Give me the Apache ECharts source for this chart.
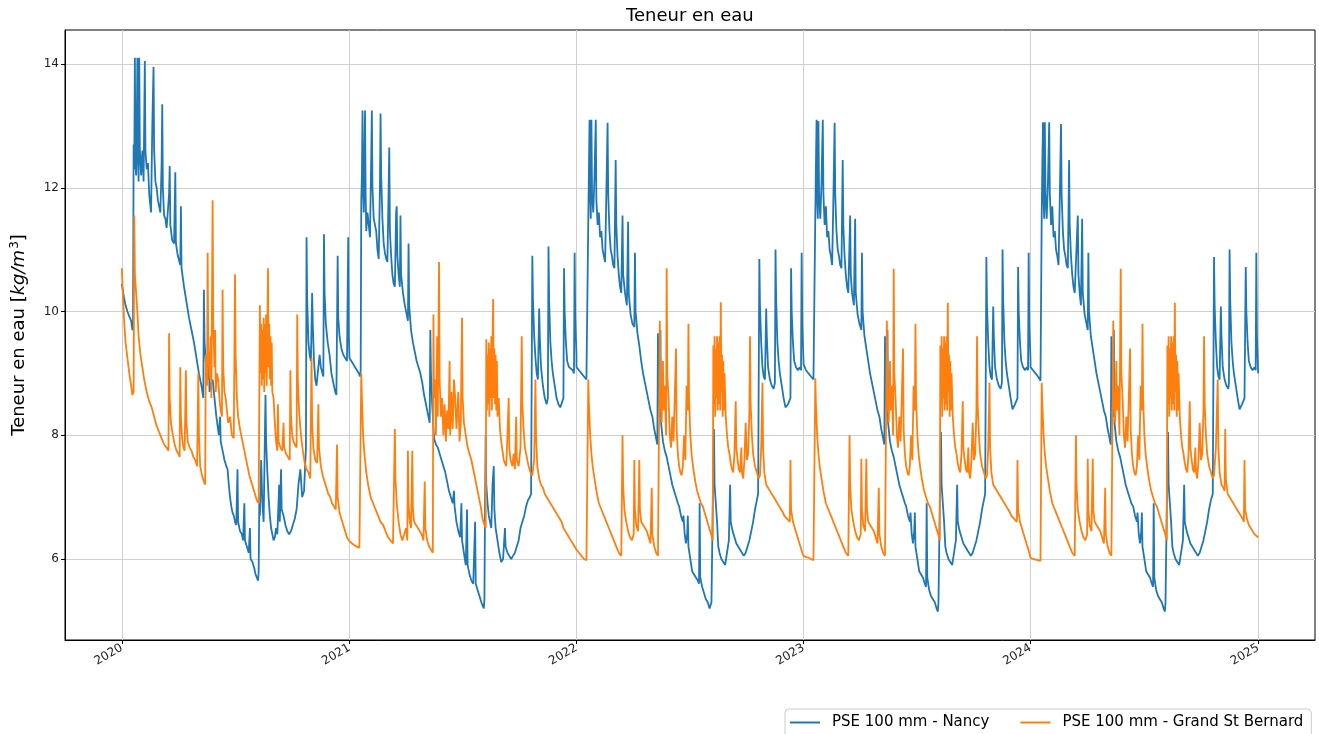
<!DOCTYPE html>
<html>
<head>
<meta charset="utf-8">
<script src="https://cdn.jsdelivr.net/npm/echarts@6/dist/echarts.min.js"></script>
<style>
html,body{margin:0;padding:0;background:#fff;}
#chart{width:1319px;height:734px;}
</style>
</head>
<body>
<div id="chart"></div>
<script>
// ---- DATA: [day of year, value] ----
const years = [2020, 2021, 2022, 2023, 2024];
const yTicks = [6, 8, 10, 12, 14];
const xTickYears = [2020, 2021, 2022, 2023, 2024, 2025];
const seriesNames = ['PSE 100 mm - Nancy', 'PSE 100 mm - Grand St Bernard'];

const nancy2020 = [[0,10.45],[3,10.25],[6,10.1],[9,10.0],[12,9.92],[15,9.85],[17,9.7],[18,9.75],
[19,12.7],[20,12.3],[21,14.1],[22,12.4],[23,12.2],[24,12.9],[25,14.1],[26,12.5],[27,12.1],[28,14.1],[29,12.6],[31,12.2],[33,12.6],[35,12.1],[37,14.05],[38,12.6],[40,12.3],[42,12.4],[44,11.9],[46,11.7],[47,11.6],[49,13.0],[51,13.95],[52,12.6],[54,12.1],[56,12.0],[58,11.8],[60,11.7],[62,11.6],[64,12.4],[65,13.35],[66,12.0],[68,11.55],[70,11.5],[72,11.35],[76,11.9],[77,12.35],[78,11.4],[81,11.15],[84,11.1],[86,12.25],[87,11.1],[90,10.9],[94,10.75],[95,11.7],[96,10.7],[100,10.4],[104,10.15],[108,9.9],[112,9.7],[116,9.5],[120,9.25],[124,9.0],[128,8.8],[131,8.6],[132,10.35],[133,9.5],[135,9.2],[138,8.9],[140,9.3],[141,8.7],[144,8.85],[146,8.9],[148,8.7],[150,8.5],[152,8.3],[154,8.15],[156,8.0],[158,8.3],[159,7.9],[162,7.75],[165,7.6],[168,7.5],[170,7.45],[172,7.2],[174,7.0],[176,6.85],[178,6.75],[180,6.7],[182,6.6],[184,6.55],[186,7.45],[187,6.6],[190,6.45],[193,6.4],[195,6.3],[197,6.9],[198,6.3],[201,6.2],[204,6.1],[206,6.5],[207,6.0],[210,5.95],[213,5.85],[215,5.75],[217,5.7],[219,5.65],[220,5.8],[221,6.9],[222,6.7],[224,7.6],[226,6.9],[228,6.6],[231,8.65],[232,7.9],[234,7.4],[236,7.0],[238,6.7],[240,6.5],[242,6.4],[244,6.3],[246,6.35],[248,6.5],[250,6.4],[253,7.2],[254,6.6],[256,7.45],[257,6.8],[260,6.7],[263,6.55],[266,6.45],[269,6.4],[272,6.45],[275,6.55],[278,6.65],[281,6.8],[284,7.2],[287,7.45],[290,7.0],[293,7.1],[296,7.8],[297,11.2],[298,10.2],[300,9.5],[302,9.3],[304,9.2],[306,10.3],[307,9.8],[309,9.2],[311,8.9],[313,8.8],[316,8.8],[318,9.3],[320,9.1],[324,8.95],[325,11.25],[326,10.3],[328,9.8],[331,9.5],[334,9.3],[337,9.0],[340,8.85],[343,8.7],[345,8.65],[347,10.9],[348,9.9],[350,9.6],[353,9.4],[356,9.3],[359,9.25],[362,9.2],[364,11.2],[365,9.6]];

const nancy2021 = [[0,9.25],[3,9.2],[6,9.15],[9,9.1],[12,9.05],[15,9.0],[17,8.95],[18,9.05],
[19,11.8],[20,12.2],[21,13.25],[22,11.9],[23,11.6],[24,12.3],[25,13.25],[26,11.9],[27,11.3],[29,11.6],[31,11.4],[33,11.2],[35,12.5],[36,13.25],[37,12.0],[39,11.5],[41,11.4],[43,11.3],[45,11.0],[47,10.85],[49,12.0],[50,13.2],[51,12.2],[53,11.5],[55,11.1],[57,10.95],[59,10.85],[61,10.8],[63,12.0],[64,12.65],[65,11.3],[67,10.9],[69,10.6],[71,10.45],[73,10.4],[75,11.6],[76,11.7],[77,10.9],[79,10.6],[81,10.4],[82,11.55],[83,10.6],[86,10.3],[89,10.1],[92,9.95],[94,9.85],[95,11.1],[96,10.1],[99,9.7],[102,9.5],[105,9.35],[108,9.2],[111,9.1],[114,9.0],[117,8.85],[120,8.65],[123,8.5],[126,8.35],[129,8.2],[130,9.7],[131,9.0],[133,8.5],[136,7.95],[139,7.85],[142,7.8],[145,7.7],[148,7.6],[151,7.5],[154,7.4],[157,7.25],[160,7.1],[163,7.0],[166,6.9],[168,7.1],[169,6.85],[172,6.6],[175,6.45],[178,6.35],[180,6.9],[181,6.3],[184,6.1],[187,5.9],[189,6.8],[190,5.9],[193,5.75],[196,5.65],[199,5.6],[202,6.6],[203,5.6],[206,5.5],[209,5.4],[212,5.3],[214,5.25],[216,5.2],[217,5.35],[218,6.9],[219,8.0],[220,7.2],[222,6.9],[224,6.7],[226,6.6],[228,6.5],[230,7.2],[232,7.5],[233,6.8],[235,6.5],[238,6.3],[241,6.1],[244,5.95],[247,6.0],[250,6.5],[251,6.2],[254,6.1],[257,6.05],[260,6.0],[263,6.05],[266,6.1],[269,6.2],[272,6.3],[275,6.5],[278,6.6],[281,6.7],[284,6.85],[287,6.95],[290,7.0],[292,7.05],[294,10.9],[295,10.2],[297,9.6],[299,9.25],[301,9.0],[303,8.9],[305,10.05],[306,9.6],[308,9.1],[311,8.8],[314,8.6],[317,8.5],[319,8.6],[320,11.05],[321,10.2],[323,9.5],[325,9.2],[327,9.0],[330,8.8],[333,8.6],[336,8.5],[339,8.45],[342,8.45],[344,8.6],[345,10.7],[346,10.0],[348,9.5],[350,9.2],[353,9.1],[356,9.1],[359,9.05],[361,9.0],[362,10.95],[363,9.9],[365,9.3]];

const nancy2022 = [[0,9.1],[4,9.05],[8,9.0],[12,8.95],[16,8.9],[18,8.9],[19,11.5],[20,12.3],[21,13.1],[22,11.9],[23,11.5],[24,13.1],[25,11.9],[27,11.6],[29,12.2],[31,13.1],[32,11.8],[34,11.4],[36,11.6],[38,11.2],[40,11.3],[42,11.0],[44,10.9],[46,10.8],[48,11.9],[50,13.05],[51,11.9],[53,11.3],[55,11.0],[57,10.9],[59,10.75],[61,10.7],[63,12.45],[64,11.4],[66,10.9],[68,10.6],[70,10.4],[72,10.3],[74,11.55],[75,10.6],[78,10.3],[81,10.1],[83,11.45],[84,10.3],[87,9.95],[90,9.8],[93,9.75],[94,10.95],[95,10.0],[98,9.65],[101,9.45],[104,9.2],[107,9.0],[110,8.85],[113,8.7],[116,8.55],[119,8.4],[122,8.3],[125,8.1],[128,7.95],[130,7.85],[131,9.65],[132,8.8],[134,8.3],[135,9.7],[136,8.2],[139,7.9],[142,7.75],[145,7.65],[148,7.5],[151,7.35],[154,7.2],[157,7.1],[160,7.0],[163,6.9],[165,6.85],[168,6.7],[171,6.6],[172,6.7],[174,6.4],[176,6.25],[178,6.4],[179,6.7],[180,6.2],[183,6.0],[186,5.8],[189,5.75],[192,5.7],[195,5.65],[197,5.6],[198,6.9],[199,5.7],[202,5.55],[205,5.45],[208,5.35],[211,5.3],[214,5.2],[216,5.18],[217,5.3],[219,6.8],[221,8.1],[222,7.2],[224,6.9],[226,6.6],[228,6.2],[230,6.1],[233,6.0],[236,5.95],[239,5.9],[242,5.88],[245,6.3],[247,7.2],[248,6.6],[251,6.45],[254,6.35],[257,6.25],[260,6.2],[263,6.15],[266,6.1],[269,6.05],[272,6.1],[275,6.2],[278,6.3],[281,6.45],[284,6.6],[287,6.8],[290,6.95],[292,7.05],[294,10.85],[295,10.1],[297,9.5],[299,9.1],[301,8.95],[303,8.9],[305,10.05],[306,9.6],[308,9.1],[311,8.9],[314,8.8],[317,8.75],[319,8.85],[320,11.0],[321,10.2],[323,9.5],[325,9.2],[327,9.0],[330,8.8],[333,8.6],[336,8.45],[338,8.42],[340,8.5],[344,8.6],[345,10.7],[346,10.0],[348,9.5],[350,9.2],[353,9.1],[356,9.05],[359,9.1],[361,9.05],[362,10.95],[363,9.8],[365,9.2]];

const nancy2023 = [[0,9.15],[4,9.05],[8,9.0],[12,8.95],[16,8.9],[18,8.88],[19,11.6],[20,12.4],[21,13.1],[22,11.8],[23,11.5],[24,13.08],[25,11.9],[27,11.5],[29,12.1],[31,13.1],[32,11.9],[34,11.4],[36,11.7],[38,11.2],[40,11.3],[42,11.0],[44,10.9],[46,10.75],[48,11.8],[50,13.05],[51,11.9],[53,11.3],[55,11.0],[57,10.9],[59,10.75],[61,10.7],[63,12.45],[64,11.4],[66,10.9],[68,10.6],[70,10.4],[72,10.3],[75,11.55],[76,10.6],[78,10.3],[81,10.1],[83,11.5],[84,10.3],[87,9.95],[90,9.8],[93,9.7],[94,10.95],[95,10.0],[98,9.6],[101,9.4],[104,9.2],[107,9.0],[110,8.85],[113,8.7],[116,8.55],[119,8.4],[122,8.3],[125,8.1],[128,7.95],[130,7.85],[131,9.6],[132,8.8],[134,8.3],[135,9.7],[136,8.2],[139,7.9],[142,7.75],[145,7.65],[148,7.5],[151,7.35],[154,7.2],[157,7.1],[160,7.0],[163,6.9],[165,6.85],[168,6.7],[171,6.6],[172,6.75],[174,6.4],[176,6.25],[178,6.45],[179,6.75],[180,6.2],[183,6.0],[186,5.8],[189,5.75],[192,5.7],[195,5.6],[197,5.55],[198,6.9],[199,5.7],[202,5.5],[205,5.4],[208,5.35],[211,5.3],[214,5.2],[216,5.15],[217,5.3],[219,6.8],[221,8.05],[222,7.2],[224,6.9],[226,6.6],[228,6.2],[230,6.1],[233,6.0],[236,5.95],[239,5.9],[242,5.88],[245,6.3],[247,7.2],[248,6.6],[251,6.45],[254,6.35],[257,6.25],[260,6.2],[263,6.15],[266,6.1],[269,6.05],[272,6.1],[275,6.2],[278,6.3],[281,6.45],[284,6.6],[287,6.8],[290,6.95],[292,7.05],[294,10.88],[295,10.1],[297,9.5],[299,9.1],[301,8.95],[303,8.9],[305,10.08],[306,9.6],[308,9.1],[311,8.9],[314,8.8],[317,8.75],[319,8.85],[320,11.0],[321,10.2],[323,9.5],[325,9.2],[327,9.0],[330,8.8],[333,8.6],[336,8.42],[338,8.45],[340,8.5],[344,8.6],[345,10.72],[346,10.0],[348,9.5],[350,9.2],[353,9.1],[356,9.05],[359,9.1],[361,9.05],[362,10.95],[363,9.8],[365,9.2]];

const nancy2024 = [[0,9.1],[4,9.05],[8,9.0],[12,8.95],[16,8.88],[17,8.87],[18,11.6],[19,12.4],[20,13.06],[21,11.8],[22,11.5],[23,13.06],[24,11.9],[26,11.5],[28,12.1],[30,13.06],[31,11.9],[33,11.4],[35,11.7],[37,11.2],[39,11.3],[41,11.0],[43,10.9],[45,10.75],[47,11.8],[49,13.03],[50,11.9],[52,11.3],[54,11.0],[56,10.9],[58,10.75],[60,10.7],[62,12.45],[63,11.4],[65,10.9],[67,10.6],[69,10.4],[71,10.3],[76,11.55],[77,10.6],[79,10.3],[81,10.1],[83,11.5],[84,10.3],[87,9.95],[90,9.8],[92,9.7],[93,10.95],[94,10.0],[97,9.6],[100,9.4],[103,9.2],[106,9.0],[109,8.85],[112,8.7],[115,8.55],[118,8.4],[121,8.3],[124,8.1],[127,7.95],[129,7.85],[130,9.6],[131,8.8],[133,8.3],[134,9.7],[135,8.2],[138,7.9],[141,7.75],[144,7.65],[147,7.5],[150,7.35],[153,7.2],[156,7.1],[159,7.0],[162,6.9],[165,6.85],[168,6.7],[171,6.6],[172,6.75],[174,6.4],[176,6.25],[178,6.45],[179,6.75],[180,6.2],[183,6.0],[186,5.8],[189,5.75],[192,5.7],[195,5.6],[197,5.55],[198,6.9],[199,5.7],[202,5.5],[205,5.4],[208,5.35],[211,5.3],[214,5.2],[216,5.15],[217,5.3],[219,6.8],[221,8.05],[222,7.2],[224,6.9],[226,6.6],[228,6.2],[230,6.1],[233,6.0],[236,5.95],[239,5.9],[242,5.88],[245,6.3],[247,7.2],[248,6.6],[251,6.45],[254,6.35],[257,6.25],[260,6.2],[263,6.15],[266,6.1],[269,6.05],[272,6.1],[275,6.2],[278,6.3],[281,6.45],[284,6.6],[287,6.8],[290,6.95],[293,7.05],[295,10.88],[296,10.1],[298,9.5],[300,9.1],[302,8.95],[304,8.9],[306,10.08],[307,9.6],[309,9.1],[312,8.9],[315,8.8],[318,8.75],[319,8.85],[320,11.0],[321,10.2],[323,9.5],[325,9.2],[327,9.0],[330,8.8],[333,8.6],[336,8.42],[338,8.45],[340,8.5],[344,8.6],[346,10.72],[347,10.0],[349,9.5],[351,9.2],[354,9.1],[357,9.05],[360,9.1],[362,9.05],[363,10.95],[364,9.6],[366,9.0]];

const gsb2020 = [[0,10.7],[2,10.2],[4,9.8],[6,9.5],[9,9.25],[12,9.0],[15,8.8],[17,8.65],[19,8.7],[20,11.55],[21,10.6],[23,10.3],[25,10.0],[27,9.6],[30,9.3],[33,9.1],[36,8.9],[40,8.7],[44,8.55],[48,8.45],[52,8.3],[56,8.15],[60,8.05],[64,7.95],[68,7.85],[72,7.8],[75,7.75],[76,9.65],[77,8.6],[79,8.2],[82,8.0],[85,7.85],[88,7.75],[91,7.7],[93,7.65],[94,9.1],[95,8.3],[97,7.95],[99,7.8],[101,7.75],[103,9.05],[104,8.2],[106,7.9],[109,7.8],[112,7.75],[115,7.65],[118,7.6],[121,7.5],[123,9.0],[124,8.0],[126,7.5],[129,7.35],[132,7.25],[134,7.2],[135,9.3],[137,8.8],[138,10.95],[139,9.4],[141,8.9],[143,9.6],[144,8.6],[146,11.8],[147,9.8],[149,9.1],[150,9.7],[151,8.7],[153,9.0],[155,8.9],[157,8.6],[159,8.4],[161,8.3],[162,10.35],[163,9.1],[165,8.7],[167,8.6],[169,8.4],[171,8.2],[174,8.3],[177,8.0],[180,7.95],[182,10.6],[183,9.3],[185,8.6],[187,8.3],[190,8.1],[193,7.95],[196,7.8],[199,7.65],[202,7.5],[205,7.35],[208,7.25],[211,7.15],[214,7.05],[217,6.95],[220,6.9],[222,10.1],[223,9.0],[224,9.8],[225,8.8],[226,9.7],[227,8.9],[228,9.9],[229,8.7],[230,9.8],[231,9.0],[232,9.95],[233,8.8],[234,9.7],[235,10.7],[236,9.1],[237,9.8],[238,8.9],[239,9.6],[240,8.8],[241,9.5],[242,8.7],[244,8.6],[246,8.2],[248,7.9],[250,7.75],[251,8.5],[252,7.9],[255,7.8],[258,7.75],[260,8.2],[261,7.8],[264,7.7],[267,7.65],[270,7.6],[271,9.05],[272,8.3],[274,8.0],[276,7.9],[278,7.85],[281,7.8],[282,9.95],[283,8.9],[285,8.4],[288,8.0],[291,7.75],[294,7.55],[297,7.45],[300,7.4],[303,7.3],[305,9.25],[306,8.2],[308,7.8],[311,7.6],[314,7.55],[316,8.5],[317,7.8],[320,7.5],[323,7.35],[326,7.25],[329,7.15],[332,7.05],[335,7.0],[338,6.9],[341,6.85],[344,6.8],[346,7.85],[347,7.0],[350,6.75],[353,6.65],[356,6.55],[359,6.45],[362,6.35],[365,6.3]];

const gsb2021 = [[0,6.28],[4,6.25],[8,6.22],[12,6.2],[16,6.18],[18,6.15],[19,9.0],[20,8.6],[22,8.0],[24,7.7],[27,7.4],[30,7.2],[34,7.0],[38,6.9],[42,6.8],[46,6.7],[50,6.6],[54,6.55],[58,6.45],[62,6.35],[66,6.3],[70,6.25],[72,6.25],[73,8.1],[74,7.3],[76,6.9],[79,6.6],[82,6.4],[85,6.3],[88,6.3],[91,6.5],[93,6.3],[94,7.75],[95,6.9],[97,6.6],[99,6.5],[101,7.75],[102,6.8],[104,6.6],[107,6.55],[110,6.5],[113,6.45],[116,6.4],[119,6.3],[121,7.25],[122,6.5],[125,6.3],[128,6.2],[131,6.15],[134,6.1],
[135,9.95],[136,8.6],[138,8.9],[139,8.0],[141,9.6],[142,8.3],[144,10.8],[145,8.9],[147,8.3],[149,8.6],[151,8.0],[153,8.5],[155,7.9],[157,8.4],[159,8.1],[161,9.2],[162,8.0],[164,8.7],[166,8.1],[168,8.9],[170,8.6],[172,8.1],[175,8.7],[177,7.9],[179,8.2],[181,9.9],[182,8.6],[184,8.2],[187,8.0],[190,7.8],[193,7.7],[196,7.6],[199,7.45],[202,7.3],[205,7.15],[208,7.0],[211,6.85],[214,6.65],[217,6.55],[219,6.5],
[220,9.55],[221,8.4],[222,9.3],[223,8.5],[224,9.5],[225,8.3],[226,9.4],[227,8.6],[228,9.6],[229,8.4],[230,9.5],[231,10.2],[232,8.6],[233,9.4],[234,8.5],[235,9.3],[236,8.4],[237,9.2],[238,8.3],[240,8.6],[242,8.1],[244,7.9],[246,7.75],[248,7.6],[250,7.55],[252,7.5],[254,8.0],[256,8.6],[257,7.8],[259,7.6],[262,7.5],[264,7.7],[266,7.45],[268,8.3],[269,7.6],[272,7.5],[275,7.8],[277,9.6],[278,8.5],[280,8.1],[282,7.8],[285,7.65],[288,7.5],[291,7.4],[294,7.35],[297,7.6],[299,8.9],[300,8.0],[302,7.5],[305,7.3],[308,7.2],[311,7.15],[314,7.05],[317,7.0],[320,6.95],[323,6.9],[326,6.85],[329,6.8],[332,6.75],[335,6.7],[338,6.65],[341,6.6],[344,6.5],[347,6.45],[350,6.4],[353,6.35],[356,6.3],[359,6.25],[362,6.2],[365,6.15]];

const gsb2022 = [[0,6.15],[4,6.1],[8,6.05],[12,6.0],[16,5.98],[18,5.98],[19,8.9],[20,8.5],[22,8.0],[24,7.7],[26,7.5],[29,7.3],[32,7.1],[36,6.9],[40,6.8],[44,6.7],[48,6.6],[52,6.5],[56,6.4],[60,6.3],[64,6.2],[68,6.1],[72,6.05],[74,8.0],[75,7.2],[77,6.8],[80,6.6],[83,6.45],[86,6.35],[89,6.3],[92,6.4],[93,7.6],[94,6.8],[96,6.55],[99,6.45],[101,7.6],[102,6.8],[104,6.6],[107,6.55],[110,6.5],[113,6.45],[116,6.35],[119,6.25],[121,7.15],[122,6.4],[125,6.2],[128,6.1],[131,6.05],[133,6.02],
[134,9.85],[135,8.6],[137,8.2],[139,9.2],[140,8.4],[142,8.8],[144,8.0],[145,10.7],[146,9.0],[148,8.6],[150,8.0],[152,7.8],[154,8.3],[156,7.9],[158,8.6],[160,9.4],[161,8.1],[163,7.7],[165,7.5],[167,7.4],[169,7.35],[171,7.5],[173,8.0],[175,7.6],[177,8.8],[179,8.4],[180,9.8],[181,8.6],[183,8.0],[185,7.7],[188,7.45],[191,7.25],[194,7.1],[197,7.0],[200,6.9],[203,6.85],[206,6.75],[209,6.65],[212,6.55],[215,6.45],[218,6.35],[219,6.3],
[220,9.45],[221,8.5],[222,9.6],[223,8.3],[224,9.4],[225,8.6],[226,9.6],[227,8.4],[228,9.5],[229,8.5],[230,9.6],[231,8.4],[232,10.15],[233,8.7],[234,9.3],[235,8.3],[236,9.2],[237,8.4],[238,9.0],[240,8.3],[242,8.0],[244,7.8],[246,7.7],[248,7.55],[250,7.45],[252,7.4],[254,7.7],[256,8.55],[257,7.8],[259,7.6],[261,7.45],[263,7.4],[265,7.8],[266,7.4],[268,7.3],[270,7.6],[272,8.2],[274,7.6],[276,7.7],[278,8.4],[279,9.6],[280,8.5],[282,8.0],[284,7.7],[287,7.5],[290,7.4],[293,7.3],[295,7.35],[297,7.8],[299,8.85],[300,7.8],[302,7.4],[305,7.2],[308,7.15],[311,7.1],[314,7.05],[317,7.0],[320,7.0],[323,6.9],[326,6.85],[329,6.8],[332,6.75],[334,6.7],[343,6.6],[344,7.6],[345,6.8],[348,6.6],[351,6.5],[354,6.4],[357,6.3],[360,6.2],[363,6.1],[365,6.05]];

const gsb2023 = [[0,6.05],[4,6.03],[8,6.02],[12,6.0],[16,5.98],[18,5.97],[19,8.92],[20,8.5],[22,8.0],[24,7.7],[26,7.5],[29,7.3],[32,7.1],[36,6.9],[40,6.8],[44,6.7],[48,6.6],[52,6.5],[56,6.4],[60,6.3],[64,6.2],[68,6.1],[72,6.05],[74,8.0],[75,7.2],[77,6.8],[80,6.6],[83,6.45],[86,6.35],[89,6.3],[92,6.4],[93,7.62],[94,6.8],[96,6.55],[99,6.45],[101,7.62],[102,6.8],[104,6.6],[107,6.55],[110,6.5],[113,6.45],[116,6.35],[119,6.25],[121,7.15],[122,6.4],[125,6.2],[128,6.1],[131,6.05],[133,6.02],
[134,9.85],[135,8.6],[137,8.2],[139,9.2],[140,8.4],[142,8.8],[144,8.0],[145,10.69],[146,9.0],[148,8.6],[150,8.0],[152,7.8],[154,8.3],[156,7.9],[158,8.6],[160,9.4],[161,8.1],[163,7.7],[165,7.5],[167,7.4],[169,7.35],[171,7.5],[173,8.0],[175,7.6],[177,8.8],[179,8.4],[180,9.8],[181,8.6],[183,8.0],[185,7.7],[188,7.45],[191,7.25],[194,7.1],[197,7.0],[200,6.9],[203,6.85],[206,6.75],[209,6.65],[212,6.55],[215,6.45],[218,6.35],[219,6.3],
[220,9.45],[221,8.5],[222,9.6],[223,8.3],[224,9.4],[225,8.6],[226,9.6],[227,8.4],[228,9.5],[229,8.5],[230,9.6],[231,8.4],[232,10.14],[233,8.7],[234,9.3],[235,8.3],[236,9.2],[237,8.4],[238,9.0],[240,8.3],[242,8.0],[244,7.8],[246,7.7],[248,7.55],[250,7.45],[252,7.4],[254,7.7],[256,8.55],[257,7.8],[259,7.6],[261,7.45],[263,7.4],[265,7.8],[266,7.4],[268,7.3],[270,7.6],[272,8.2],[274,7.6],[276,7.7],[278,8.4],[279,9.6],[280,8.5],[282,8.0],[284,7.7],[287,7.5],[290,7.4],[293,7.3],[295,7.35],[297,7.8],[299,8.85],[300,7.8],[302,7.4],[305,7.2],[308,7.15],[311,7.1],[314,7.05],[317,7.0],[320,7.0],[323,6.9],[326,6.85],[329,6.8],[332,6.75],[334,6.7],[343,6.6],[344,7.6],[345,6.8],[348,6.6],[351,6.5],[354,6.4],[357,6.3],[360,6.2],[363,6.1],[365,6.02]];

const gsb2024 = [[0,6.02],[4,6.0],[8,5.99],[12,5.98],[16,5.97],[17,5.96],[18,8.85],[19,8.5],[21,8.0],[23,7.7],[25,7.5],[28,7.3],[31,7.1],[35,6.9],[39,6.8],[43,6.7],[47,6.6],[51,6.5],[55,6.4],[59,6.3],[63,6.2],[67,6.1],[71,6.05],[73,8.0],[74,7.2],[76,6.8],[79,6.6],[82,6.45],[85,6.35],[88,6.3],[91,6.4],[92,7.62],[93,6.8],[95,6.55],[98,6.45],[100,7.62],[101,6.8],[103,6.6],[106,6.55],[109,6.5],[112,6.45],[115,6.35],[118,6.25],[120,7.15],[121,6.4],[124,6.2],[127,6.1],[130,6.05],[132,6.02],
[133,9.85],[134,8.6],[136,8.2],[138,9.2],[139,8.4],[141,8.8],[143,8.0],[145,10.69],[146,9.0],[148,8.6],[150,8.0],[152,7.8],[154,8.3],[156,7.9],[158,8.6],[160,9.4],[161,8.1],[163,7.7],[165,7.5],[167,7.4],[169,7.35],[171,7.5],[173,8.0],[175,7.6],[177,8.8],[179,8.4],[180,9.8],[181,8.6],[183,8.0],[185,7.7],[188,7.45],[191,7.25],[194,7.1],[197,7.0],[200,6.9],[203,6.85],[206,6.75],[209,6.65],[212,6.55],[215,6.45],[218,6.35],[219,6.3],
[220,9.45],[221,8.5],[222,9.6],[223,8.3],[224,9.4],[225,8.6],[226,9.6],[227,8.4],[228,9.5],[229,8.5],[230,9.6],[231,8.4],[232,10.14],[233,8.7],[234,9.3],[235,8.3],[236,9.2],[237,8.4],[238,9.0],[240,8.3],[242,8.0],[244,7.8],[246,7.7],[248,7.55],[250,7.45],[252,7.4],[254,7.7],[256,8.55],[257,7.8],[259,7.6],[261,7.45],[263,7.4],[265,7.8],[266,7.4],[268,7.3],[270,7.6],[272,8.2],[274,7.6],[276,7.7],[278,8.4],[279,9.6],[280,8.5],[282,8.0],[284,7.7],[287,7.5],[290,7.4],[293,7.3],[295,7.35],[298,7.8],[301,8.9],[302,7.8],[304,7.4],[307,7.2],[310,7.15],[312,7.1],[313,8.1],[314,7.3],[317,7.05],[320,7.0],[323,6.95],[326,6.9],[329,6.85],[332,6.8],[335,6.75],[338,6.7],[341,6.65],[343,6.6],[344,7.6],[345,6.8],[348,6.65],[351,6.55],[354,6.5],[357,6.45],[360,6.4],[363,6.37],[366,6.35]];

const nancyByYear = [nancy2020, nancy2021, nancy2022, nancy2023, nancy2024];
const gsbByYear = [gsb2020, gsb2021, gsb2022, gsb2023, gsb2024];

// ---- build time-stamped points ----
const DAY = 86400000;
function buildSeries(byYear) {
  const out = [];
  byYear.forEach((arr, i) => {
    const base = Date.UTC(years[i], 0, 1);
    arr.forEach(([d, v]) => out.push([base + d * DAY, v]));
  });
  return out;
}
const nancyData = buildSeries(nancyByYear);
const gsbData = buildSeries(gsbByYear);

const t0 = Date.UTC(2020, 0, 1), t1 = Date.UTC(2025, 0, 1);
const pad = (t1 - t0) * 0.05;
const xTickValues = xTickYears.map(y => Date.UTC(y, 0, 1));

const FONT = 'DejaVu Sans';
const chart = echarts.init(document.getElementById('chart'), null, {renderer: 'canvas'});
chart.setOption({
  animation: false,
  backgroundColor: '#ffffff',
  title: {
    text: 'Teneur en eau',
    left: 621, top: 2,
    textStyle: {fontFamily: FONT, fontSize: 18, fontWeight: 'normal', color: '#000'}
  },
  legend: {
    data: seriesNames.map(n => ({name: n, icon: 'rect'})),
    left: 785, top: 709,
    orient: 'horizontal',
    itemWidth: 30, itemHeight: 2, itemGap: 31,
    padding: [6, 8, 8, 5],
    borderColor: '#cccccc', borderWidth: 1, borderRadius: 4,
    backgroundColor: '#ffffff',
    textStyle: {fontFamily: FONT, fontSize: 15, color: '#000', padding: [0, 0, 0, 7]}
  },
  grid: {
    left: 65, right: 4, top: 30, bottom: 94,
    show: true, borderColor: '#000', borderWidth: 1,
    containLabel: false, outerBoundsMode: 'none'
  },
  xAxis: {
    type: 'value',
    min: t0 - pad, max: t1 + pad,
    axisLine: {show: true, onZero: false, lineStyle: {color: '#000', width: 1}},
    axisTick: {show: true, customValues: xTickValues, length: 4, lineStyle: {color: '#000'}},
    axisLabel: {
      customValues: xTickValues, rotate: 30, margin: 7,
      fontFamily: FONT, fontSize: 12, color: '#222',
      formatter: v => String(new Date(v).getUTCFullYear())
    },
    splitLine: {show: true, lineStyle: {color: '#cfcfcf', width: 1}}
  },
  yAxis: {
    type: 'value',
    min: 4.69, max: 14.55,
    name: 'Teneur en eau [{it|kg/m}{sup|3}]',
    nameLocation: 'middle', nameGap: 36, nameRotate: 90,
    nameTextStyle: {fontFamily: FONT, fontSize: 18, color: '#000',
      rich: {it: {fontFamily: FONT, fontSize: 18, fontStyle: 'italic', color: '#000'},
             sup: {fontFamily: FONT, fontSize: 12, fontStyle: 'normal', color: '#000', verticalAlign: 'top', padding: [0, 0, 8, 1]}}},
    axisLine: {show: true, lineStyle: {color: '#000', width: 1}},
    axisTick: {show: true, customValues: yTicks, length: 4, lineStyle: {color: '#000'}},
    axisLabel: {customValues: yTicks, margin: 6, fontFamily: FONT, fontSize: 12, color: '#222'},
    splitLine: {show: true, lineStyle: {color: '#cfcfcf', width: 1}}
  },
  series: [
    {name: seriesNames[0], type: 'line', data: nancyData, symbol: 'none', showSymbol: false,
     sampling: null, lineStyle: {color: '#1f77b4', width: 1.8}, itemStyle: {color: '#1f77b4'}},
    {name: seriesNames[1], type: 'line', data: gsbData, symbol: 'none', showSymbol: false,
     sampling: null, lineStyle: {color: '#ff7f0e', width: 1.8}, itemStyle: {color: '#ff7f0e'}}
  ]
});
</script>
</body>
</html>
